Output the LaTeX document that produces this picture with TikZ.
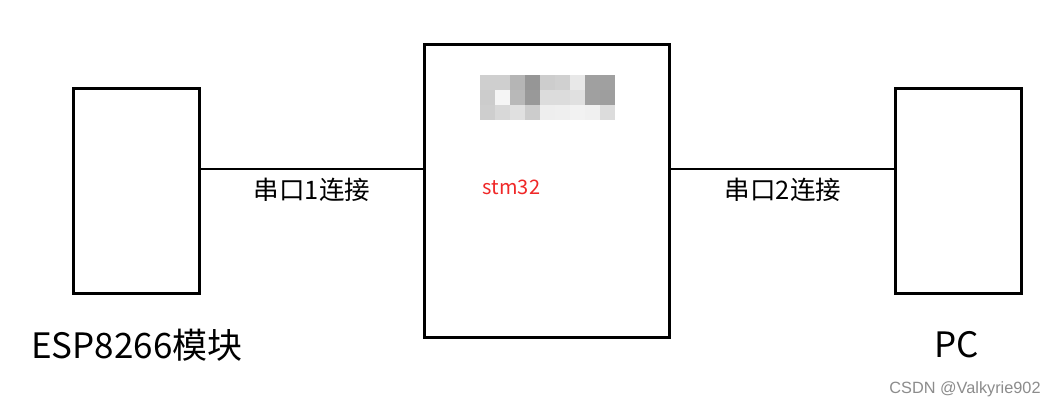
\documentclass[tikz,border=0pt]{standalone}
\usepackage{fontspec}
\setmainfont{Noto Sans CJK SC}
\newfontfamily\wmfont{Liberation Sans}
\begin{document}
\begin{tikzpicture}[x=1pt,y=-1pt,
  blockbox/.style={draw=black,line width=3pt},
  wire/.style={draw=black,line width=2.8pt},
  lbl/.style={font=\fontsize{25.5}{30}\selectfont,inner sep=0pt},
  biglbl/.style={font=\fontsize{35}{40}\selectfont,inner sep=0pt}]
\useasboundingbox[fill=white] (0,0) rectangle (1054,411);
% pixelated blocks
\def\pixrow#1#2{\foreach \c [count=\i from 0] in {#2}{\definecolor{pc}{HTML}{\c}\fill[pc] (480+15*\i,#1) rectangle ++(15,15);}}
\pixrow{75}{CFCFCF,CFCFCF,B5B5B5,969696,CDCDCD,D0D0D0,E8E8E8,A0A0A0,A0A0A0}
\pixrow{90}{CCCCCC,F5F5F5,B8B8B8,999999,DCDCDC,DCDCDC,E0E0E0,A0A0A0,9E9E9E}
\pixrow{105}{CECECE,D8D8D8,E0E0E0,CCCCCC,EEEEEE,EFEFEF,F2F2F2,F0F0F0,DCDCDC}
% boxes
\node[blockbox,minimum width=126pt,minimum height=205pt,inner sep=0pt] (esp) at (136,191.5) {};
\node[blockbox,minimum width=245pt,minimum height=292pt,inner sep=0pt] (stm) at (546.5,191) {};
\node[blockbox,minimum width=126pt,minimum height=205pt,inner sep=0pt] (pc) at (958,191.5) {};
\coordinate (sl) at (stm.west |- 0,169);
\coordinate (sr) at (stm.east |- 0,169);
\coordinate (el) at (esp.east |- 0,169);
\coordinate (pl) at (pc.west |- 0,169);
\draw[wire] (el) -- (sl);
\draw[wire] (sr) -- (pl);
\node[lbl] (l1) at (312,190) {串口1连接};
\node[lbl] (l2) at (783,190) {串口2连接};
\node[font=\fontsize{20}{24}\selectfont,text={rgb,255:red,240;green,40;blue,40},inner sep=0pt] (st) at (511.5,187) {stm32};
\node[biglbl] (espl) at (137,345) {ESP8266模块};
\node[biglbl] (pcl) at (957,345) {PC};
\node[font=\wmfont\fontsize{16.3}{19}\selectfont,text={rgb,255:red,140;green,140;blue,140},inner sep=0pt] (wm) at (965,389) {CSDN @Valkyrie902};
\end{tikzpicture}
\end{document}
